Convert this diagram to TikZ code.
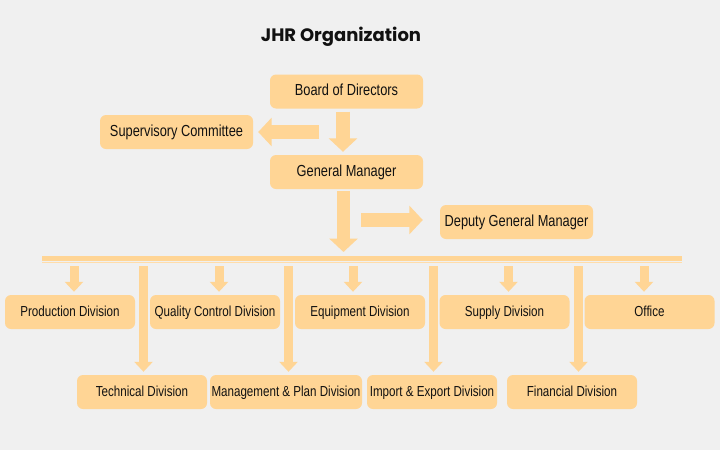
\documentclass[tikz,border=0pt]{standalone}
\usepackage{fontspec}
\setmainfont{Liberation Sans}
\newfontfamily\boxfont[FakeStretch=0.8]{Liberation Sans}
\newfontfamily\titlefont{Poppins}
\usetikzlibrary{arrows.meta}
\definecolor{bgcol}{HTML}{F0F0F0}
\definecolor{boxcol}{HTML}{FFD595}
\definecolor{txtcol}{HTML}{111111}

\tikzset{
  unit/.style={fill=boxcol, rounded corners=6pt, inner sep=0pt, text=txtcol, text height=1.0em, text depth=0.2em},
  topunit/.style={unit, minimum width=153pt, minimum height=34pt, font=\boxfont\fontsize{16}{19}\selectfont},
  divunit/.style={unit, minimum width=130pt, minimum height=34pt, font=\boxfont\fontsize{14.5}{17}\selectfont},
  bigarrow/.style={draw=boxcol, line width=13.5pt, -{Triangle[width=28pt,length=13.5pt]}},
  smallarrow/.style={draw=boxcol, line width=9pt, -{Triangle[width=18pt,length=10pt]}}
}

\begin{document}
\begin{tikzpicture}[x=1pt,y=-1pt]
  \fill[bgcol] (0,0) rectangle (720,450);

  \node[font=\titlefont\bfseries\fontsize{18}{21}\selectfont, text=txtcol] (title) at (341,37) {JHR Organization};

  % top of the chart
  \node[topunit] (board) at (346.5,91.5) {Board of Directors};
  \node[topunit] (sup) at (176.5,132) {Supervisory Committee};
  \node[topunit] (gm) at (346.5,172) {General Manager};
  \node[topunit] (dgm) at (516.5,222) {Deputy General Manager};

  \coordinate (supfrom) at (319,132);
  \coordinate (gmtip) at (343.5,252);
  \coordinate (dgmfrom) at (361,220);

  \draw[bigarrow] ([xshift=-3.5pt,yshift=-3pt]board.south) -- ([xshift=-3.5pt,yshift=3pt]gm.north);
  \draw[bigarrow] (supfrom) -- ([xshift=5pt]sup.east);
  \draw[bigarrow] ([xshift=-3pt,yshift=-2pt]gm.south) -- (gmtip);
  \draw[bigarrow] (dgmfrom) -- ([xshift=-17pt,yshift=2pt]dgm.west);

  % the bar
  \coordinate (barL) at (42,258.5);
  \coordinate (barR) at (682,258.5);
  \draw[boxcol, line width=5pt] (barL) -- (barR);
  \draw[boxcol!80!white, line width=0.7pt] ([yshift=-4pt]barL) -- ([yshift=-4pt]barR);

  % divisions
  \node[divunit] (prod) at (70,312) {Production Division};
  \node[divunit] (qc) at (215,312) {Quality Control Division};
  \node[divunit] (equip) at (360,312) {Equipment Division};
  \node[divunit] (supply) at (504.5,312) {Supply Division};
  \node[divunit] (office) at (649.5,312) {Office};
  \node[divunit] (tech) at (142,392) {Technical Division};
  \node[divunit, minimum width=152pt] (mgmt) at (286,392) {Management \& Plan Division};
  \node[divunit] (imp) at (432,392) {Import \& Export Division};
  \node[divunit] (fin) at (572,392) {Financial Division};

  \foreach \b/\x in {prod/74,qc/219,equip/353,supply/508.5,office/644,tech/143.5,mgmt/288.5,imp/433.5,fin/578.5}
    \draw[smallarrow] (\x,266) -- ([yshift=3pt]\b.north -| \x,0);
\end{tikzpicture}
\end{document}
